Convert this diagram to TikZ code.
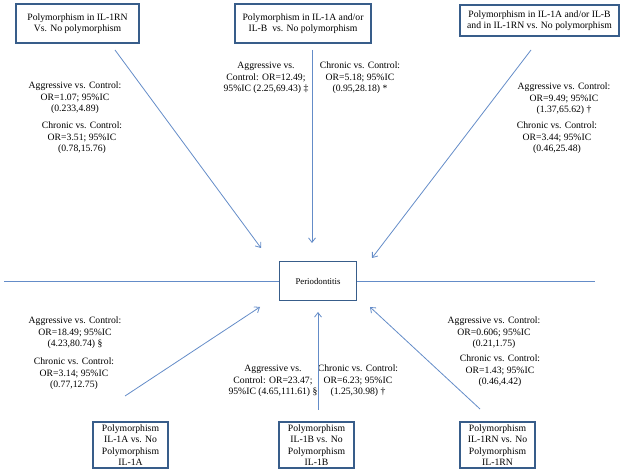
\documentclass[tikz,border=0pt]{standalone}
\usepackage{fontspec}
\setmainfont{Liberation Serif}
\usepackage{tikz}
\usetikzlibrary{arrows.meta}
\usetikzlibrary{positioning}
\definecolor{boxblue}{RGB}{56,93,138}
\definecolor{lineblue}{RGB}{100,140,200}

\begin{document}
\begin{tikzpicture}[x=1pt,y=-1pt,
		every node/.style={font=\fontsize{9.7}{11.4}\selectfont},
		factor/.style={draw=boxblue, line width=1.8pt, fill=white, align=center, inner sep=1pt},
		stat/.style={align=center, inner sep=0pt},
		link/.style={lineblue, line width=0.8pt},
		arrow/.style={link, -{Straight Barb[length=4.5pt,width=7pt]}}]
	
	\useasboundingbox (0,0) rectangle (630,470);
	
	% outcome
	\node[factor, minimum width=77pt, minimum height=39pt] (perio) at (318,281) {\fontsize{8.8}{10}\selectfont Periodontitis};
	\coordinate (west-end) at (4,281);
	\coordinate (east-end) at (595,281);
	\draw[link] (west-end) -- (perio.west);
	\draw[link] (perio.east) -- (east-end);
	
	% top row
	\node[factor, minimum width=123pt, minimum height=39pt] (rn) at (77.5,23.5) {Polymorphism in IL-1RN\\Vs. No polymorphism};
	\node[factor, minimum width=136pt, minimum height=39pt] (ab) at (303,23.5) {Polymorphism in IL-1A and/or\\IL-B\ \ vs. No polymorphism};
	\node[factor, minimum width=159pt, minimum height=31pt] (abrn) at (539.5,20.5) {Polymorphism in IL-1A and/or IL-B\\and in IL-1RN vs. No polymorphism};
	
	\node[stat] (rn-ag) at (75,98) {Aggressive vs. Control:\\OR=1.07; 95\%IC\\(0.233,4.89)};
	\node[stat] (rn-ch) at (82,138) {Chronic vs. Control:\\OR=3.51; 95\%IC\\(0.78,15.76)};
	\node[stat] (ab-ag) at (266,78) {Aggressive vs.\\Control: OR=12.49;\\95\%IC (2.25,69.43) ‡};
	\node[stat] (ab-ch) at (360,78) {Chronic vs. Control:\\OR=5.18; 95\%IC\\(0.95,28.18) *};
	\node[stat] (abrn-ag) at (564,99) {Aggressive vs. Control:\\OR=9.49; 95\%IC\\(1.37,65.62) †};
	\node[stat] (abrn-ch) at (557,138) {Chronic vs. Control:\\OR=3.44; 95\%IC\\(0.46,25.48)};
	
	\coordinate (rn-out) at (115,50);
	\coordinate (rn-in) at (261,248);
	\coordinate (ab-out) at (312,50);
	\coordinate (ab-in) at (312,243);
	\coordinate (abrn-out) at (531,50);
	\coordinate (abrn-in) at (372,258);
	\draw[arrow] (rn-out) -- (rn-in);
	\draw[arrow] (ab-out) -- (ab-in);
	\draw[arrow] (abrn-out) -- (abrn-in);
	
	% bottom row
	\node[factor, minimum width=75pt, minimum height=46pt] (ia) at (130.5,445) {Polymorphism\\IL-1A vs. No\\Polymorphism\\IL-1A};
	\node[factor, minimum width=75pt, minimum height=46pt] (ib) at (316.5,445) {Polymorphism\\IL-1B vs. No\\Polymorphism\\IL-1B};
	\node[factor, minimum width=75pt, minimum height=46pt] (irn) at (497.5,445) {Polymorphism\\IL-1RN vs. No\\Polymorphism\\IL-1RN};
	
	\node[stat] (ia-ag) at (75,333) {Aggressive vs. Control:\\OR=18.49; 95\%IC\\(4.23,80.74) §};
	\node[stat] (ia-ch) at (74,374) {Chronic vs. Control:\\OR=3.14; 95\%IC\\(0.77,12.75)};
	\node[stat] (ib-ag) at (273,381) {Aggressive vs.\\Control: OR=23.47;\\95\%IC (4.65,111.61) §};
	\node[stat] (ib-ch) at (358,381) {Chronic vs. Control:\\OR=6.23; 95\%IC\\(1.25,30.98) †};
	\node[stat] (irn-ag) at (494,333) {Aggressive vs. Control:\\OR=0.606; 95\%IC\\(0.21,1.75)};
	\node[stat] (irn-ch) at (500,371) {Chronic vs. Control:\\OR=1.43; 95\%IC\\(0.46,4.42)};
	
	\coordinate (ia-out) at (125,396);
	\coordinate (ia-in) at (260,307);
	\coordinate (ib-out) at (318,410);
	\coordinate (ib-in) at (318,312);
	\coordinate (irn-out) at (480,409);
	\coordinate (irn-in) at (370,307);
	\draw[arrow] (ia-out) -- (ia-in);
	\draw[arrow] (ib-out) -- (ib-in);
	\draw[arrow] (irn-out) -- (irn-in);
	
\end{tikzpicture}
\end{document}
